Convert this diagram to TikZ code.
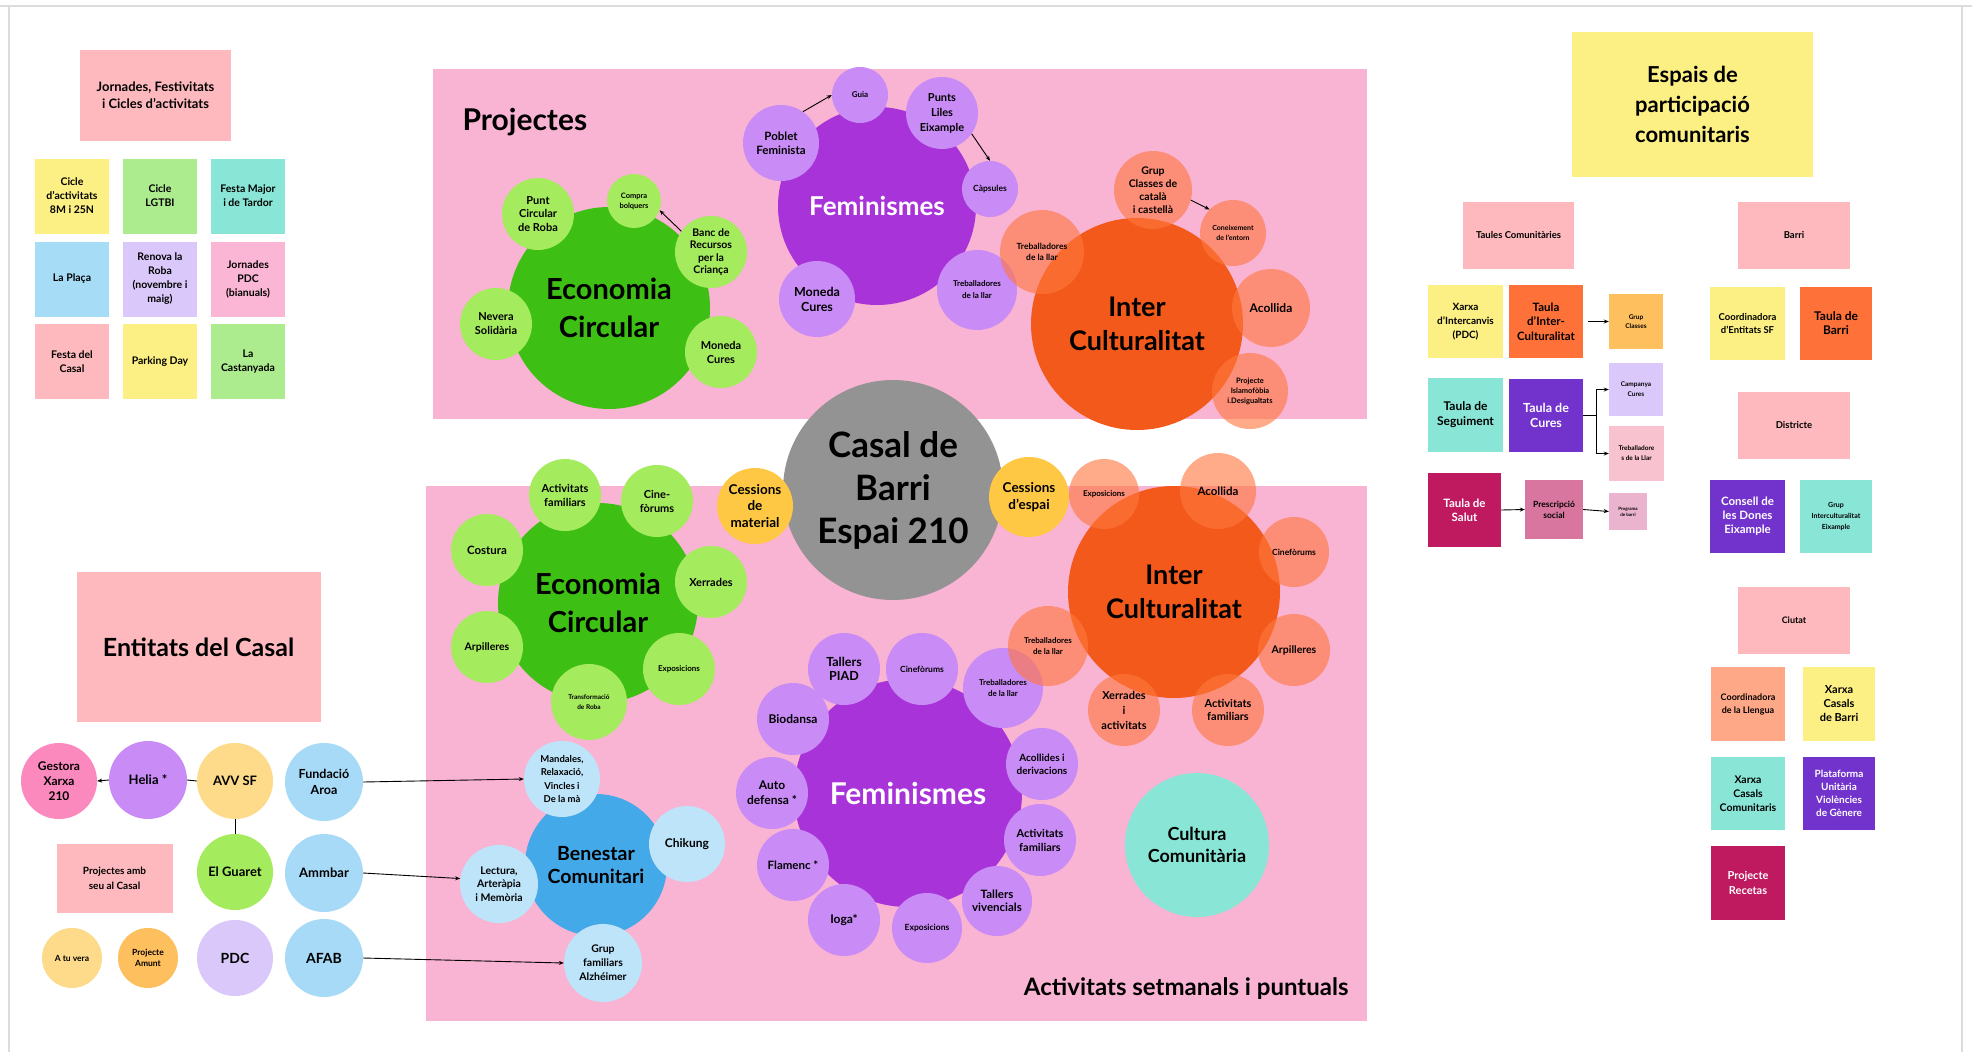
\documentclass[tikz,border=0pt]{standalone}
\usepackage{fontspec}
\setmainfont{Lato}
\usetikzlibrary{arrows.meta}
\newcommand\fs[2]{\fontsize{#1}{#2}\selectfont}
\definecolor{bgpink}{HTML}{F9B3D3}
\definecolor{nsalmon}{HTML}{FDB9BD}
\definecolor{nyellow}{HTML}{FCEF84}
\definecolor{ngreen}{HTML}{ADEB8F}
\definecolor{nteal}{HTML}{89E6D7}
\definecolor{nblue}{HTML}{A7DCF7}
\definecolor{nlav}{HTML}{DAC8FA}
\definecolor{npink}{HTML}{FAB6D4}
\definecolor{bgreen}{HTML}{3DBF14}
\definecolor{lgreen}{HTML}{A5EB5E}
\definecolor{bpurple}{HTML}{A833D8}
\definecolor{lpurple}{HTML}{C98BF5}
\definecolor{borange}{HTML}{F3591A}
\definecolor{salm}{HTML}{FF773F}
\definecolor{cgrey}{HTML}{939393}
\definecolor{gold}{HTML}{FEC844}
\definecolor{bblue}{HTML}{44A9E8}
\definecolor{lblue}{HTML}{BEE4FA}
\definecolor{eblue}{HTML}{A6DAF7}
\definecolor{gestc}{HTML}{FC89BE}
\definecolor{avvc}{HTML}{FDDB8B}
\definecolor{amuntc}{HTML}{FEBF5E}
\definecolor{norange}{HTML}{FE7139}
\definecolor{npurple}{HTML}{7233CC}
\definecolor{nmag}{HTML}{BF1A5F}
\definecolor{prescc}{HTML}{D8769F}
\definecolor{progc}{HTML}{EAB4CE}
\definecolor{llarc}{HTML}{F9C2CF}
\definecolor{llengc}{HTML}{FEA887}
\definecolor{frame}{HTML}{DCDCDC}
\begin{document}
\begin{tikzpicture}[x=1pt,y=-1pt,
  circ/.style={circle, inner sep=0pt, align=center, font=\bfseries, text=black},
  R/.style={minimum size=2*#1},
  sat/.style={circ, fill=#1},
  sal/.style={circ, fill=salm, fill opacity=0.62, text opacity=1},
  note/.style={rectangle, inner sep=0pt, align=center, font=\bfseries, text=black, fill=#1},
  gridnote/.style={note=#1, minimum width=74, minimum height=75, font=\bfseries\fs{10.5}{14}},
  wh/.style={text=white},
  arr/.style={draw=black, line width=0.9pt, -{Stealth[length=5pt,width=4pt]}},
  ln/.style={draw=black, line width=0.9pt}]
\useasboundingbox (0,0) rectangle (1972,1052);
\fill[white] (0,0) rectangle (1972,1052);
\draw[frame, line width=1.5pt] (0,6) -- (1972,6);
\draw[frame, line width=1.5pt] (9,6) -- (9,1052);
\draw[frame, line width=1.5pt] (1962,6) -- (1962,1052);

% ---------- top-left notes
\node[note=nsalmon, minimum width=151, minimum height=91, font=\bfseries\fs{13}{17}] (jorn) at (155.5,95.5) {Jornades, Festivitats\\i Cicles d'activitats};
\node[gridnote=nyellow] (c8m) at (72,196) {Cicle\\d'activitats\\8M i 25N};
\node[gridnote=ngreen] (lgtbi) at (160,196) {Cicle\\LGTBI};
\node[gridnote=nteal] (fmaj) at (248,196) {Festa Major\\i de Tardor};
\node[gridnote=nblue] (plaza) at (72,279) {La Plaça};
\node[gridnote=nlav] (renova) at (160,279) {Renova la\\Roba\\(novembre i\\maig)};
\node[gridnote=npink] (jpdc) at (248,279) {Jornades\\PDC\\(bianuals)};
\node[gridnote=nsalmon] (fcasal) at (72,361.5) {Festa del\\Casal};
\node[gridnote=nyellow] (park) at (160,361.5) {Parking Day};
\node[gridnote=ngreen] (cast) at (248,361.5) {La\\Castanyada};

% ---------- backgrounds
\fill[bgpink] (433,69) rectangle (1367,419);
\fill[bgpink] (426,486) rectangle (1367,1021);
\node[anchor=base west, font=\bfseries\fs{30}{36}] (proj) at (459,130) {Projectes};
\node[anchor=base east, font=\bfseries\fs{24}{28}] (setm) at (1352,995) {Activitats setmanals i puntuals};

% ---------- top Economia Circular
\node[sat=bgreen, R=101, font=\bfseries\fs{29}{38}] (ec1) at (609,308) {Economia\\Circular};
\node[sat=lgreen, R=36, font=\bfseries\fs{11}{13.5}] (punt) at (538,214) {Punt\\Circular\\de Roba};
\node[sat=lgreen, R=27, font=\bfseries\fs{7.5}{10}] (compra) at (634,201) {Compra\\bolquers};
\node[sat=lgreen, R=36, font=\bfseries\fs{10.5}{12.5}] (banc) at (711,252) {Banc de\\Recursos\\per la\\Criança};
\node[sat=lgreen, R=36, font=\bfseries\fs{11}{14}] (nevera) at (496,324) {Nevera\\Solidària};
\node[sat=lgreen, R=36, font=\bfseries\fs{11}{14}] (monec) at (721,352) {Moneda\\Cures};
\draw[arr] (banc.145) -- (compra.-20);

% ---------- top Feminismes
\node[sat=bpurple, R=99, font=\bfseries\fs{26}{30}, wh] (fem1) at (877,206) {Feminismes};
\node[sat=lpurple, R=38, font=\bfseries\fs{11.5}{14}] (poblet) at (781,143) {Poblet\\Feminista};
\node[sat=lpurple, R=28, font=\bfseries\fs{8}{10}] (guia) at (860,95) {Guia};
\node[sat=lpurple, R=36, font=\bfseries\fs{11}{15}] (punts) at (942,113) {Punts\\Liles\\Eixample};
\node[sat=lpurple, R=28, font=\bfseries\fs{8.5}{10}] (caps) at (990,189) {Càpsules};
\node[sat=lpurple, R=38, font=\bfseries\fs{12.5}{15}] (monef) at (817,299) {Moneda\\Cures};
\node[sat=lpurple, R=40, font=\bfseries\fs{8}{12}] (trebf1) at (977,290) {Treballadores\\de la llar};
\draw[arr] (poblet.55) -- (guia.west);
\draw[arr] (punts.-35) -- (caps.north);

% ---------- top Interculturalitat
\node[sat=borange, R=106, font=\bfseries\fs{27}{34}] (ic1) at (1137,324) {Inter\\Culturalitat};
\node[sal, R=39, font=\bfseries\fs{10.5}{13}] (grupcl) at (1153,190) {Grup\\Classes de\\català\\i castellà};
\node[sal, R=33, font=\bfseries\fs{7}{10}] (conei) at (1233,233) {Coneixement\\de l'entorn};
\node[sal, R=42, font=\bfseries\fs{8.5}{11}] (trebi1) at (1042,252) {Treballadores\\de la llar};
\node[sal, R=39, font=\bfseries\fs{12}{14}] (acol1) at (1271,308) {Acollida};
\node[sal, R=38, font=\bfseries\fs{7.5}{10}] (islam) at (1250,391) {Projecte\\Islamofòbia\\i.Desigualtats};
\draw[arr] (grupcl.-15) -- (conei.135);

% ---------- centre
\node[sat=cgrey, R=110, font=\bfseries\fs{35}{43}] (casal) at (893,490) {Casal de\\Barri\\Espai 210};
\node[sat=gold, R=38, font=\bfseries\fs{13.5}{16.5}] (cmat) at (755,506) {Cessions\\de\\material};
\node[sat=gold, R=40, font=\bfseries\fs{13.5}{16.5}] (cesp) at (1029,497) {Cessions\\d'espai};

% ---------- bottom Economia Circular
\node[sat=bgreen, R=100, font=\bfseries\fs{29}{38}] (ec2) at (598,603) {Economia\\Circular};
\node[sat=lgreen, R=36, font=\bfseries\fs{11}{14}] (actf) at (565,495) {Activitats\\familiars};
\node[sat=lgreen, R=36, font=\bfseries\fs{11}{14}] (cine) at (657,501) {Cine-\\fòrums};
\node[sat=lgreen, R=36, font=\bfseries\fs{11.5}{14}] (costura) at (487,550) {Costura};
\node[sat=lgreen, R=36, font=\bfseries\fs{11}{14}] (xerr) at (711,582) {Xerrades};
\node[sat=lgreen, R=36, font=\bfseries\fs{10.5}{14}] (arpi) at (487,647) {Arpilleres};
\node[sat=lgreen, R=36, font=\bfseries\fs{8}{10}] (expo) at (679,669) {Exposicions};
\node[sat=lgreen, R=38, font=\bfseries\fs{6.5}{10}] (transf) at (589,702) {Transformació\\de Roba};

% ---------- bottom Feminismes
\node[sat=bpurple, R=114, font=\bfseries\fs{30}{34}, wh] (fem2) at (908,793) {Feminismes};
\node[sat=lpurple, R=36, font=\bfseries\fs{12.5}{14.5}] (piad) at (844,669) {Tallers\\PIAD};
\node[sat=lpurple, R=36, font=\bfseries\fs{8.5}{10}] (cinef) at (922,669) {Cinefòrums};
\node[sat=lpurple, R=40, font=\bfseries\fs{8}{11}] (trebf2) at (1003,688) {Treballadores\\de la llar};
\node[sat=lpurple, R=36, font=\bfseries\fs{12}{14}] (bio) at (793,719) {Biodansa};
\node[sat=lpurple, R=36, font=\bfseries\fs{10}{13}] (acolf) at (1042,764) {Acollides i\\derivacions};
\node[sat=lpurple, R=36, font=\bfseries\fs{12}{15}] (auto) at (772,793) {Auto\\defensa *};
\node[sat=lpurple, R=36, font=\bfseries\fs{11}{14}] (actf2) at (1040,840) {Activitats\\familiars};
\node[sat=lpurple, R=36, font=\bfseries\fs{11.5}{14}] (flam) at (793,865) {Flamenc *};
\node[sat=lpurple, R=35, font=\bfseries\fs{11.5}{13}] (tviv) at (997,901) {Tallers\\vivencials};
\node[sat=lpurple, R=36, font=\bfseries\fs{12}{14}] (ioga) at (844,920) {Ioga*};
\node[sat=lpurple, R=35, font=\bfseries\fs{8.5}{10}] (expof) at (927,928) {Exposicions};

% ---------- bottom Interculturalitat
\node[sat=borange, R=106, font=\bfseries\fs{27}{34}] (ic2) at (1174,592) {Inter\\Culturalitat};
\node[sal, R=35, font=\bfseries\fs{8}{10}] (expoi) at (1104,494) {Exposicions};
\node[sal, R=38, font=\bfseries\fs{11.5}{14}] (acol2) at (1218,491) {Acollida};
\node[sal, R=35, font=\bfseries\fs{8.5}{10}] (cinei) at (1294,552) {Cinefòrums};
\node[sal, R=36, font=\bfseries\fs{10.5}{13}] (arpii) at (1294,650) {Arpilleres};
\node[sal, R=36, font=\bfseries\fs{11}{13.5}] (actfi) at (1228,710) {Activitats\\familiars};
\node[sal, R=36, font=\bfseries\fs{11}{15}] (xeri) at (1124,710) {Xerrades\\i\\activitats};
\node[sal, R=40, font=\bfseries\fs{8}{11}] (trebi2) at (1048,646) {Treballadores\\de la llar};

\node[sat=nteal, R=72, font=\bfseries\fs{18}{22.5}] (cult) at (1197,845) {Cultura\\Comunitària};

% ---------- Benestar Comunitari
\node[sat=bblue, R=71, font=\bfseries\fs{19.5}{23}] (ben) at (596,865) {Benestar\\Comunitari};
\node[sat=lblue, R=38, font=\bfseries\fs{9.5}{13.5}] (mand) at (562,779) {Mandales,\\Relaxació,\\Vincles i\\De la mà};
\node[sat=lblue, R=38, font=\bfseries\fs{12}{14}] (chik) at (687,844) {Chikung};
\node[sat=lblue, R=39, font=\bfseries\fs{10.5}{13.5}] (lect) at (499,884) {Lectura,\\Arteràpia\\i Memòria};
\node[sat=lblue, R=39, font=\bfseries\fs{10.5}{14}] (alz) at (603,963) {Grup\\familiars\\Alzhéimer};

% ---------- Entitats del Casal
\node[note=nsalmon, minimum width=244, minimum height=150, font=\bfseries\fs{25}{29}] (entit) at (198.5,647) {Entitats del Casal};
\node[note=nsalmon, minimum width=116, minimum height=69, font=\bfseries\fs{10}{15}] (pseu) at (114.5,878) {Projectes amb\\seu al Casal};
\node[sat=gestc, R=38, font=\bfseries\fs{12}{15}] (gest) at (59,781) {Gestora\\Xarxa\\210};
\node[sat=lpurple, R=39, font=\bfseries\fs{13}{15}] (helia) at (148,780) {Helia *};
\node[sat=avvc, R=38, font=\bfseries\fs{13}{15}] (avv) at (235,781) {AVV SF};
\node[sat=eblue, R=39, font=\bfseries\fs{12.5}{16}] (fund) at (324,782) {Fundació\\Aroa};
\node[sat=lgreen, R=38, font=\bfseries\fs{13}{15}] (guaret) at (235,872) {El Guaret};
\node[sat=eblue, R=39, font=\bfseries\fs{13}{15}] (amm) at (324,873) {Ammbar};
\node[sat=nlav, R=38, font=\bfseries\fs{14}{16}] (pdc) at (235,958) {PDC};
\node[sat=eblue, R=39, font=\bfseries\fs{14}{16}] (afab) at (324,958) {AFAB};
\node[sat=avvc, R=30, font=\bfseries\fs{8.5}{11}] (atu) at (72,958) {A tu vera};
\node[sat=amuntc, R=30, font=\bfseries\fs{8.5}{11}] (amunt) at (148,958) {Projecte\\Amunt};
\draw[arr] (helia.west) -- (gest.east);
\draw[ln] (helia.east) -- (avv.west);
\draw[ln] (avv.south) -- (guaret.north);
\draw[arr] (fund.east) -- (mand.west);
\draw[arr] (amm.east) -- (lect.172);
\draw[arr] (afab.east) -- (alz.west);

% ---------- Espais de participacio
\node[note=nyellow, minimum width=241, minimum height=145, font=\bfseries\fs{22}{30}] (espais) at (1692.5,104.5) {Espais de\\participació\\comunitaris};
\node[note=nsalmon, minimum width=111, minimum height=67, font=\bfseries\fs{9.5}{12}] (taules) at (1518.5,235.5) {Taules Comunitàries};
\node[note=nsalmon, minimum width=112, minimum height=67, font=\bfseries\fs{9.5}{12}] (barri) at (1794,235.5) {Barri};
\node[note=nyellow, minimum width=75, minimum height=73, font=\bfseries\fs{10}{14}] (xint) at (1465.5,321.5) {Xarxa\\d'Intercanvis\\(PDC)};
\node[note=norange, minimum width=74, minimum height=73, font=\bfseries\fs{11.5}{14.5}] (tinter) at (1546,321.5) {Taula\\d'Inter-\\Culturalitat};
\node[note=amuntc, minimum width=54, minimum height=55, font=\bfseries\fs{6.5}{9.5}] (gclas) at (1636,321.5) {Grup\\Classes};
\node[note=nyellow, minimum width=75, minimum height=73, font=\bfseries\fs{9.5}{13}] (coordsf) at (1747.5,323.5) {Coordinadora\\d'Entitats SF};
\node[note=norange, minimum width=72, minimum height=73, font=\bfseries\fs{12}{14}] (tbarri) at (1836,323.5) {Taula de\\Barri};
\node[note=nteal, minimum width=75, minimum height=74, font=\bfseries\fs{12}{15}] (tseg) at (1465.5,415) {Taula de\\Seguiment};
\node[note=npurple, minimum width=74, minimum height=73, font=\bfseries\fs{12.5}{15}, wh] (tcures) at (1546,415.5) {Taula de\\Cures};
\node[note=nlav, minimum width=54, minimum height=53, font=\bfseries\fs{6.5}{10}] (campa) at (1636,389.5) {Campanya\\Cures};
\node[note=llarc, minimum width=55, minimum height=55, font=\bfseries\fs{6.5}{10}] (tllar) at (1636.5,453.5) {Treballadore\\s de la Llar};
\node[note=nsalmon, minimum width=112, minimum height=67, font=\bfseries\fs{9.5}{12}] (distr) at (1794,425.5) {Districte};
\node[note=nmag, minimum width=73, minimum height=74, font=\bfseries\fs{11.5}{14}, wh] (tsalut) at (1464.5,510) {Taula de\\Salut};
\node[note=prescc, minimum width=58, minimum height=59, font=\bfseries\fs{8.5}{11}] (presc) at (1554,509.5) {Prescripció\\social};
\node[note=progc, minimum width=38, minimum height=37, font=\bfseries\fs{4.5}{6}] (progb) at (1628,511.5) {Programa\\de barri};
\node[note=npurple, minimum width=75, minimum height=73, font=\bfseries\fs{11.5}{14}, wh] (consell) at (1747.5,516.5) {Consell de\\les Dones\\Eixample};
\node[note=nteal, minimum width=72, minimum height=73, font=\bfseries\fs{7}{11}] (gintx) at (1836,516.5) {Grup\\Interculturalitat\\Eixample};
\node[note=nsalmon, minimum width=112, minimum height=67, font=\bfseries\fs{9}{12}] (ciutat) at (1794,620.5) {Ciutat};
\node[note=llengc, minimum width=74, minimum height=74, font=\bfseries\fs{9}{13}] (cllen) at (1748,704) {Coordinadora\\de la Llengua};
\node[note=nyellow, minimum width=72, minimum height=74, font=\bfseries\fs{11}{14}] (xcb) at (1839,704) {Xarxa\\Casals\\de Barri};
\node[note=nteal, minimum width=74, minimum height=73, font=\bfseries\fs{10.5}{14}] (xcc) at (1748,793.5) {Xarxa\\Casals\\Comunitaris};
\node[note=npurple, minimum width=72, minimum height=73, font=\bfseries\fs{10}{13}, wh] (plat) at (1839,793.5) {Plataforma\\Unitària\\Violències\\de Gènere};
\node[note=nmag, minimum width=74, minimum height=74, font=\bfseries\fs{11}{15}, wh] (recet) at (1748,883) {Projecte\\Recetas};

\draw[arr, shorten <=5pt] (tinter.east) -- (gclas.west);
\draw[arr] (tcures.east) -- ++(13,0) |- (campa.west);
\draw[arr] (tcures.east) -- ++(13,0) |- (tllar.west);
\draw[arr] (tsalut.east) -- (presc.west);
\draw[arr] (presc.east) -- (progb.west);
\end{tikzpicture}
\end{document}
